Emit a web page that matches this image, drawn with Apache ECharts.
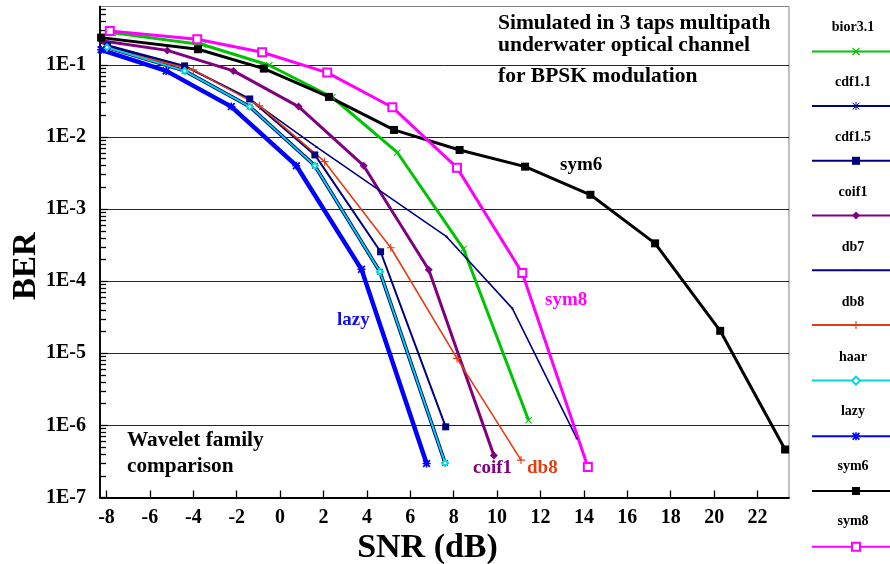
<!DOCTYPE html>
<html>
<head>
<meta charset="utf-8">
<script src="https://cdn.jsdelivr.net/npm/echarts@6/dist/echarts.min.js"></script>
<style>html,body{margin:0;padding:0;background:#fff;}#c{width:890px;height:564px;}</style>
</head>
<body>
<div id="c"></div>
<script>
// ---- data (SNR in dB, BER) ----
const NAMES = ['bior3.1','cdf1.1','cdf1.5','coif1','db7','db8','haar','lazy','sym6','sym8'];
const SNR_BIOR31 = [-7.7, -3.55, -0.5, 2.4, 5.4, 8.45, 11.45];
const BER_BIOR31 = [0.278, 0.190, 0.099, 0.0356, 0.0061, 2.8e-4, 1.18e-6];
const SNR_CDF11 = [-7.98, -4.4, -1.4, 1.6, 4.6, 7.6];
const BER_CDF11 = [0.175, 0.0826, 0.0264, 0.0040, 1.35e-4, 3.02e-7];
const SNR_CDF15 = [-7.96, -4.4, -1.4, 1.6, 4.63, 7.63];
const BER_CDF15 = [0.187, 0.0969, 0.0337, 0.00564, 2.56e-4, 9.55e-7];
const SNR_COIF1 = [-8.15, -5.2, -2.15, 0.85, 3.85, 6.85, 9.85];
const BER_COIF1 = [0.215, 0.159, 0.0826, 0.0264, 0.0040, 1.44e-4, 3.83e-7];
const SNR_DB7 = [-8.0, -4.35, -1.35, 1.67, 7.67, 10.7, 13.67];
const BER_DB7 = [0.181, 0.0938, 0.0327, 0.00728, 4.14e-4, 4.2e-5, 6.6e-7];
const SNR_DB8 = [-8.0, -4.0, -0.95, 2.05, 5.1, 8.15, 11.1];
const BER_DB8 = [0.172, 0.0853, 0.0270, 0.00455, 2.91e-4, 8.49e-6, 3.30e-7];
const SNR_HAAR = [-7.98, -4.4, -1.4, 1.6, 4.6, 7.6];
const BER_HAAR = [0.175, 0.0826, 0.0264, 0.0040, 1.35e-4, 3.02e-7];
const SNR_LAZY = [-8.25, -5.25, -2.25, 0.75, 3.75, 6.75];
const BER_LAZY = [0.162, 0.0826, 0.0264, 0.0040, 1.46e-4, 2.96e-7];
const SNR_SYM6 = [-8.25, -3.78, -0.75, 2.25, 5.25, 8.27, 11.29, 14.3, 17.28, 20.28, 23.27];
const BER_SYM6 = [0.239, 0.165, 0.0889, 0.036, 0.01253, 0.0066, 0.00388, 0.00158, 3.35e-4, 2.05e-5, 4.63e-7];
const SNR_SYM8 = [-7.85, -3.82, -0.83, 2.17, 5.17, 8.15, 11.16, 14.18];
const BER_SYM8 = [0.296, 0.227, 0.150, 0.0782, 0.0259, 0.00376, 1.30e-4, 2.64e-7];

// ---- axes ----
const X_TICKS = [-8,-6,-4,-2,0,2,4,6,8,10,12,14,16,18,20,22];
const Y_DECADES = [-7,-6,-5,-4,-3,-2,-1];          // exponents of 10
const MINOR_MULTS = [2,3,4,5,6,7,8,9];
const X_MIN = -8.3, X_MAX = 23.45;
const Y_MIN_EXP = -7, Y_MAX_EXP = -0.19;

const SERIF = '"Liberation Serif", "Times New Roman", serif';

const minorTicks = [];
Y_DECADES.forEach(d => MINOR_MULTS.forEach(m => {
  const v = d + Math.log10(m);
  if (v < Y_MAX_EXP) minorTicks.push(v);
}));

const SYM_X = 'path://M1,0L10,9L9,10L0,1ZM9,0L10,1L1,10L0,9Z';
const SYM_PLUS = 'path://M4.3,0H5.7V10H4.3ZM0,4.3H10V5.7H0Z';
const SYM_AST = 'path://M4.4,0H5.6V10H4.4ZM0,4.4H10V5.6H0ZM1.2,0.4L9.6,8.8L8.8,9.6L0.4,1.2ZM8.8,0.4L9.6,1.2L1.2,9.6L0.4,8.8Z';
const SYM_STAR = 'path://M4,0H6V10H4ZM0,4H10V6H0ZM1.5,0L10,8.5L8.5,10L0,1.5ZM8.5,0L10,1.5L1.5,10L0,8.5Z';
const SYM_DOT = 'path://M0,0M12,12M5,5H7V7H5Z';

const STYLES = {
  'bior3.1': {color:'#00c400', width:3, symbol:SYM_X, size:7},
  'cdf1.1': {color:'#000080', width:3.6, symbol:SYM_AST, size:7},
  'cdf1.5': {color:'#000080', width:2, symbol:'rect', size:7},
  'coif1':  {color:'#800080', width:3, symbol:'diamond', size:8},
  'db7':    {color:'#000080', width:1.6, symbol:SYM_DOT, size:12},
  'db8':    {color:'#e43c14', width:1.6, symbol:SYM_PLUS, size:8},
  'haar':   {color:'#00d8d8', width:1.8, symbol:'emptyDiamond', size:6, empty:true},
  'lazy':   {color:'#0000ff', width:4.5, symbol:SYM_STAR, size:8},
  'sym6':   {color:'#000000', width:3, symbol:'rect', size:8},
  'sym8':   {color:'#ff00ff', width:3, symbol:'emptyRect', size:8, empty:true}
};
const DATA = {
  'bior3.1':[SNR_BIOR31,BER_BIOR31], 'cdf1.1':[SNR_CDF11,BER_CDF11], 'cdf1.5':[SNR_CDF15,BER_CDF15],
  'coif1':[SNR_COIF1,BER_COIF1], 'db7':[SNR_DB7,BER_DB7], 'db8':[SNR_DB8,BER_DB8],
  'haar':[SNR_HAAR,BER_HAAR], 'lazy':[SNR_LAZY,BER_LAZY], 'sym6':[SNR_SYM6,BER_SYM6], 'sym8':[SNR_SYM8,BER_SYM8]
};

const series = NAMES.map(n => {
  const s = STYLES[n];
  const [xs, ys] = DATA[n];
  return {
    name: n, type: 'line', xAxisIndex: 0, yAxisIndex: 0,
    data: xs.map((x, i) => [x, Math.log10(ys[i])]),
    symbol: s.symbol, symbolSize: s.size,
    lineStyle: {color: s.color, width: s.width},
    itemStyle: s.empty ? {color: s.color, borderColor: s.color, borderWidth: 1.3} : {color: s.color, borderWidth: 0},
    emphasis: {disabled: true},
    animation: false
  };
});

function txt(text, x, y, size, color) {
  return {type:'text', z: 100, style:{text, x, y, font:'bold ' + size + 'px ' + SERIF, fill: color, align:'left', verticalAlign:'middle'}};
}

const chart = echarts.init(document.getElementById('c'), null, {renderer:'canvas'});
chart.setOption({
  animation: false,
  backgroundColor: '#fff',
  grid: {left: 100, right: 101, top: 6.5, bottom: 66.5, show: true, borderColor: '#808080', borderWidth: 1, containLabel: false, outerBoundsMode: 'none'},
  xAxis: [{
    type: 'value', min: X_MIN, max: X_MAX,
    name: 'SNR (dB)', nameLocation: 'middle', nameGap: 34, nameMoveOverlap: false,
    nameTextStyle: {fontFamily: SERIF, fontWeight: 'bold', fontSize: 34, color: '#000', padding: [0, 34, 0, 0]},
    axisLine: {show: true, onZero: false, lineStyle: {color: '#000', width: 1.8}},
    axisTick: {show: true, inside: true, length: 7, customValues: X_TICKS, lineStyle: {color: '#000', width: 1.3}},
    axisLabel: {customValues: X_TICKS, margin: 10, fontFamily: SERIF, fontWeight: 'bold', fontSize: 20, color: '#000'},
    splitLine: {show: false}
  }],
  yAxis: [{
    type: 'value', min: Y_MIN_EXP, max: Y_MAX_EXP, interval: 1, position: 'left',
    name: 'BER', nameLocation: 'middle', nameGap: 57, nameMoveOverlap: false,
    nameTextStyle: {fontFamily: SERIF, fontWeight: 'bold', fontSize: 33, color: '#000', padding: [0, 28, 0, 0]},
    axisLine: {show: true, onZero: false, lineStyle: {color: '#000', width: 1.5}},
    axisTick: {show: true, inside: true, length: 8, customValues: Y_DECADES, lineStyle: {color: '#000', width: 1.3}},
    axisLabel: {customValues: Y_DECADES, margin: 14, fontFamily: SERIF, fontWeight: 'bold', fontSize: 20, color: '#000',
      formatter: v => '1E' + Math.round(v)},
    splitLine: {show: true, lineStyle: {color: '#222', width: 1}}
  }, {
    type: 'value', min: Y_MIN_EXP, max: Y_MAX_EXP, position: 'left', offset: 0,
    axisLine: {show: true, onZero: false, lineStyle: {color: '#000', width: 1.5}},
    axisTick: {show: true, inside: true, length: 6, customValues: minorTicks, lineStyle: {color: '#000', width: 1.3}},
    axisLabel: {show: false},
    splitLine: {show: false}
  }],
  legend: [{
    orient: 'vertical', left: 804, top: 20.5, padding: 0, itemGap: 40.9, itemWidth: 0, itemHeight: 14,
    icon: 'none', data: NAMES, selectedMode: false,
    formatter: n => '{a|' + n + '}',
    textStyle: {rich: {a: {width: 88, align: 'center', fontFamily: SERIF, fontWeight: 'bold', fontSize: 14, lineHeight: 14, color: '#000'}}}
  }, {
    orient: 'vertical', left: 811, top: 47.4, padding: 0, itemGap: 46.7, itemWidth: 88, itemHeight: 10,
    data: NAMES, selectedMode: false, formatter: ' ',
    textStyle: {fontSize: 6, lineHeight: 6, color: 'rgba(0,0,0,0)'}
  }],
  graphic: [
    txt('Simulated in 3 taps multipath', 498, 23.3, 21.5, '#000'),
    txt('underwater optical channel', 498, 45, 21.5, '#000'),
    txt('for BPSK modulation', 498, 76, 21.5, '#000'),
    txt('sym6', 560, 165, 19, '#000'),
    txt('sym8', 545, 300, 19, '#ff00ff'),
    txt('lazy', 337, 320, 19, '#1010ee'),
    txt('coif1', 473, 468, 19, '#800080'),
    txt('db8', 527, 468, 19, '#e43c14'),
    txt('Wavelet family', 127, 440.7, 21.3, '#000'),
    txt('comparison', 127, 466.7, 21.3, '#000')
  ],
  series: series
});
</script>
</body>
</html>
